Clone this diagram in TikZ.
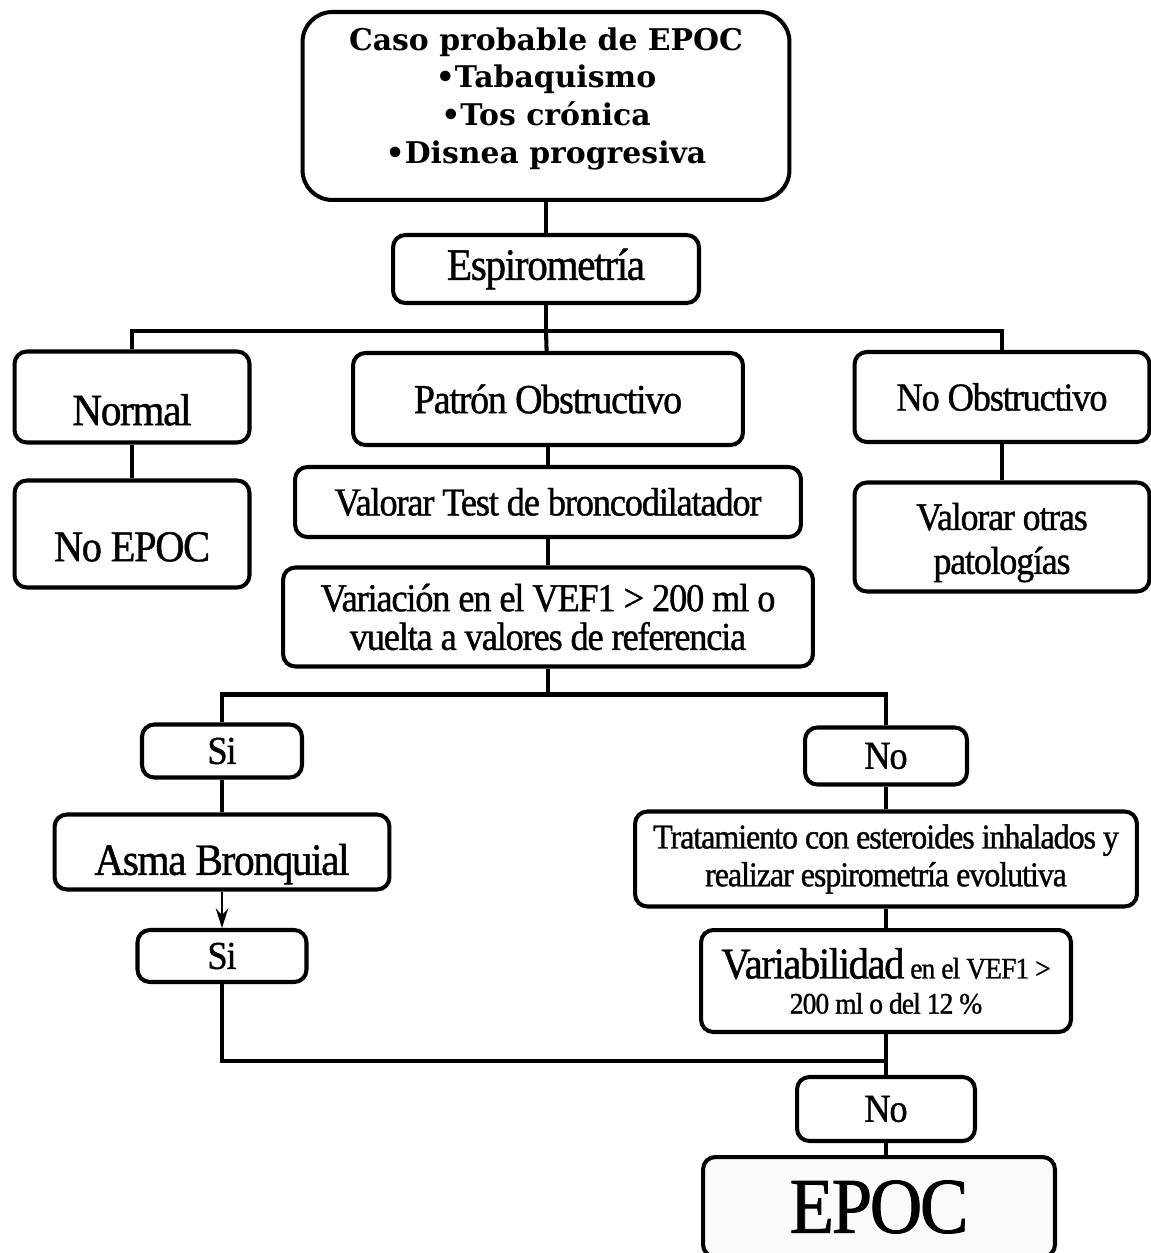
\documentclass[tikz,border=0pt]{standalone}
\usepackage{fontspec}
\setmainfont{Liberation Serif}
\newfontfamily\tnr[FakeStretch=0.92,LetterSpace=-3,FakeBold=1]{Liberation Serif}
\newfontfamily\dvs{DejaVu Serif}
\usetikzlibrary{arrows.meta,calc,positioning}
\newcommand{\fs}[2]{\fontsize{#1}{#2}\selectfont}
\tikzset{box/.style={draw,line width=2.3pt,rounded corners=7pt,align=center,inner sep=2pt,fill=white},
  bigbox/.style={box,rounded corners=17pt},
  low/.style={text height=#1,text depth=0pt},
  lnk/.style={line width=2.3pt},
  arr/.style={-{Stealth[length=11pt,width=7pt]},line width=1.6pt}}

\begin{document}
\begin{tikzpicture}[x=0.02cm,y=-0.02cm]
\useasboundingbox (0,0) rectangle (1150,1253);
% top of the chart
\node[bigbox,minimum width=9.74cm,minimum height=3.76cm,text height=77.5pt,text depth=12pt,
  font=\dvs\bfseries\fs{17}{21.5}] (caso) at (546,106)
  {Caso probable de EPOC\\•Tabaquismo\\•Tos crónica\\•Disnea progresiva};
\node[box,minimum width=6.12cm,minimum height=1.36cm,font=\tnr\fs{25.5}{28}] (esp) at (546,269) {Espirometría};
% three results
\node[box,low=32pt,minimum width=4.7cm,minimum height=1.82cm,font=\tnr\fs{25.5}{28}] (normal) at (132,397) {Normal};
\node[box,low=31pt,minimum width=4.7cm,minimum height=2.14cm,font=\tnr\fs{25}{28}] (noepoc) at (132,534) {No EPOC};
\node[box,minimum width=7.8cm,minimum height=1.84cm,font=\tnr\fs{23.5}{26}] (patron) at (548,399) {Patrón Obstructivo};
\node[box,minimum width=5.9cm,minimum height=1.8cm,font=\tnr\fs{22.5}{25}] (noobs) at (1002,397) {No Obstructivo};
\node[box,minimum width=5.9cm,minimum height=2.18cm,text height=47pt,text depth=5pt,
  font=\tnr\fs{22.2}{25}] (otras) at (1002,537) {Valorar otras\\patologías};
\node[box,minimum width=10.12cm,minimum height=1.4cm,font=\tnr\fs{22.5}{25}] (valtest) at (548,502) {Valorar Test de broncodilatador};
\node[box,minimum width=10.6cm,minimum height=1.98cm,font=\tnr\fs{22.5}{22}] (variac) at (548,617)
  {Variación en el VEF1 > 200 ml o\\vuelta a valores de referencia};
% left branch
\node[box,minimum width=3.2cm,minimum height=1.06cm,font=\tnr\fs{22.5}{25}] (si1) at (222,751) {Si};
\node[box,low=26pt,minimum width=6.7cm,minimum height=1.5cm,font=\tnr\fs{25.5}{28}] (asma) at (222,852) {Asma Bronquial};
\node[box,minimum width=3.38cm,minimum height=1.04cm,font=\tnr\fs{22.5}{25}] (si2) at (222,956) {Si};
% right branch
\node[box,minimum width=3.24cm,minimum height=1.14cm,font=\tnr\fs{22.5}{25}] (no1) at (886,756) {No};
\node[box,minimum width=10.04cm,minimum height=1.9cm,font=\tnr\fs{19.8}{21.5}] (trat) at (886,859)
  {Tratamiento con esteroides inhalados y\\realizar espirometría evolutiva};
\node[box,minimum width=7.4cm,minimum height=2.04cm,font=\tnr\fs{17}{20}] (variab) at (886,981)
  {{\fs{25}{20}Variabilidad} en el VEF1 >\\200 ml o del 12 \%};
\node[box,minimum width=3.56cm,minimum height=1.28cm,font=\tnr\fs{22.5}{25}] (no2) at (886,1109) {No};
\node[box,fill=gray!4,minimum width=7.04cm,minimum height=2cm,font=\tnr\fs{45}{50}] (epoc) at (879,1207) {EPOC};
% connectors
\draw[lnk] (caso) -- (esp);
\draw[lnk] (esp.south) -- ++(0,26) coordinate (b1);
\draw[lnk] (normal.north) |- (b1) -| (noobs.north);
\draw[lnk] (b1) -- (patron);
\draw[lnk] (normal) -- (noepoc);
\draw[lnk] (noobs) -- (otras);
\draw[lnk] (patron) -- (valtest);
\draw[lnk] (valtest) -- (variac);
\draw[lnk] (variac.south) -- ++(0,26) coordinate (b2);
\draw[lnk] (si1.north) |- (b2) -| (no1.north);
\draw[lnk] (si1) -- (asma);
\draw[arr] (asma) -- (si2);
\draw[lnk] (no1) -- (trat);
\draw[lnk] (trat) -- (variab);
\draw[lnk] (variab) -- (no2);
\draw[lnk] (no2.south) -- (no2.south |- epoc.north);
\coordinate (join) at ($(no2.north)+(0,-14)$);
\draw[lnk] (si2.south) |- (join);
\end{tikzpicture}
\end{document}
